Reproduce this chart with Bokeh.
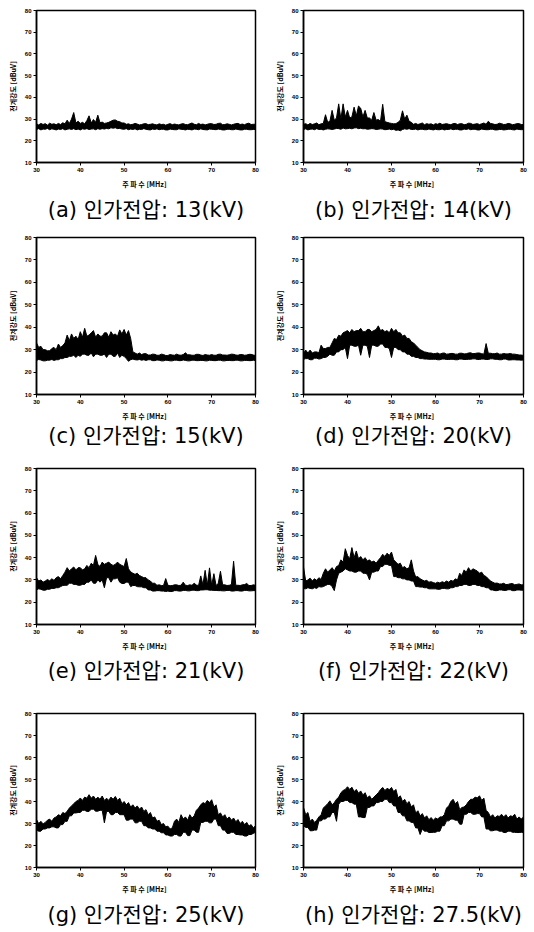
import numpy as np
from bokeh.plotting import figure
from bokeh.layouts import column, row
from bokeh.embed import file_html
from bokeh.resources import INLINE

# ---------------- data ----------------
# Each spectrum is a dense noise band: upper and lower edge of the band, every 0.5 MHz
freq_mhz = [float(f) for f in np.arange(30.0, 80.01, 0.5)]  # 30..80 MHz, 101 points

upper_13kv = [27.8,27.3,28.0,27.5,27.9,27.2,28.1,27.6,27.8,27.4,
              28.0,27.5,28.3,27.8,29.5,28.0,30.0,33.0,28.2,29.0,
              28.0,28.5,27.8,29.3,31.5,28.2,29.8,28.5,31.8,28.3,
              28.6,28.0,28.2,28.5,29.0,29.5,29.6,29.0,28.8,28.2,
              28.2,27.6,27.8,27.4,27.6,28.0,27.7,27.3,27.5,27.8,
              27.9,27.4,27.6,27.8,27.5,27.3,27.8,27.5,27.6,27.2,
              27.6,27.9,27.4,27.7,27.5,27.3,27.7,27.9,27.5,27.4,
              27.8,28.2,27.6,27.4,28.0,27.5,27.7,27.3,27.6,27.9,
              27.9,27.5,27.6,28.0,28.1,27.4,27.5,27.8,27.6,27.3,
              27.6,27.9,28.0,27.5,27.7,27.4,27.9,28.1,27.5,27.6,
              27.6]
lower_13kv = [25.2,25.6,25.0,25.4,25.3,25.7,25.1,25.5,25.3,25.0,
              25.4,25.2,25.6,25.0,25.3,25.5,25.2,25.6,25.1,25.4,
              25.0,25.5,25.3,25.6,25.2,25.4,25.5,25.1,25.6,25.3,
              25.6,25.4,25.7,25.5,26.0,25.8,26.0,25.6,25.7,25.4,
              25.3,25.6,25.1,25.4,25.2,25.5,25.0,25.3,25.2,25.6,
              25.3,25.1,25.0,25.4,25.2,25.5,25.1,25.3,25.3,25.0,
              25.0,25.4,25.2,25.1,25.1,25.5,25.3,25.2,25.0,25.3,
              25.2,25.0,25.4,25.3,25.1,25.5,25.2,25.1,25.0,25.4,
              25.3,25.2,25.1,25.4,25.2,25.0,25.0,25.3,25.3,25.1,
              25.1,25.4,25.2,25.0,25.0,25.3,25.3,25.1,25.1,25.2,
              25.2]
upper_14kv = [27.6,27.9,27.3,28.0,27.5,27.8,28.2,27.4,27.8,28.0,
              32.0,28.5,29.0,34.0,29.5,30.5,37.0,30.0,37.0,31.0,
              34.0,30.5,31.0,35.5,31.5,36.0,35.0,31.0,34.0,30.5,
              30.5,29.5,33.0,29.5,29.8,29.0,36.8,28.8,28.5,28.2,
              28.0,27.8,27.9,28.5,29.5,33.8,30.0,31.8,29.0,28.5,
              27.6,28.0,27.5,27.8,28.2,27.4,27.9,27.6,27.8,27.3,
              27.9,27.6,28.1,27.5,27.7,27.9,27.6,27.4,27.9,28.0,
              27.5,27.8,27.9,27.4,27.6,28.1,28.0,27.5,27.7,27.9,
              27.5,27.8,28.2,27.6,29.0,28.0,27.8,27.5,27.6,28.1,
              27.9,27.5,27.6,28.0,27.8,27.4,27.6,27.9,27.9,27.5,
              27.5]
lower_14kv = [25.2,25.5,25.0,25.3,25.4,25.1,25.6,25.2,25.3,25.0,
              25.3,25.5,25.4,25.2,25.4,25.7,25.6,25.3,25.9,25.5,
              25.6,25.8,25.5,25.9,26.0,25.6,25.8,25.5,25.6,25.3,
              25.4,25.6,25.5,25.2,25.3,25.5,25.4,25.1,25.2,25.4,
              25.1,25.3,24.8,25.0,24.6,25.2,25.5,25.3,25.6,25.2,
              25.2,25.4,25.0,25.3,25.3,25.1,25.1,25.4,25.2,25.0,
              25.3,25.1,25.1,25.4,25.0,25.2,25.2,25.5,25.1,25.3,
              25.3,25.0,25.0,25.4,25.2,25.5,25.1,25.3,25.3,25.0,
              25.0,25.4,25.2,25.1,25.1,25.3,25.3,25.0,25.0,25.2,
              25.2,25.0,25.1,25.3,25.3,25.1,25.0,25.4,25.2,25.1,
              25.2]
upper_15kv = [33.0,31.0,31.5,30.0,30.0,29.5,29.5,30.5,31.0,30.0,
              32.5,31.0,31.8,33.0,36.5,34.0,37.0,35.0,36.0,34.5,
              38.0,35.5,39.5,36.0,36.5,37.5,38.5,35.5,37.0,36.0,
              36.0,37.5,37.5,35.5,38.0,36.5,37.0,36.0,38.8,37.0,
              39.0,36.5,38.5,35.0,29.0,28.5,28.0,28.5,27.8,28.2,
              28.2,27.6,27.6,28.0,27.9,27.5,27.5,28.0,27.8,27.4,
              27.4,27.8,27.6,27.5,28.0,27.6,27.5,27.8,28.6,27.7,
              27.7,27.5,27.5,27.9,27.9,27.6,27.4,27.8,27.6,27.5,
              27.8,27.5,27.5,27.9,28.0,27.6,27.6,27.5,27.7,28.0,
              27.9,27.6,27.5,27.8,27.8,27.5,27.6,27.9,27.9,27.6,
              27.4]
lower_15kv = [25.2,25.6,25.4,25.0,25.0,25.3,25.3,25.6,25.2,25.5,
              25.5,26.0,26.0,26.5,26.5,27.0,27.0,27.5,26.5,27.5,
              27.0,28.0,28.0,27.5,27.5,28.5,26.8,28.0,28.0,27.5,
              27.5,28.0,26.5,28.0,28.0,27.0,27.0,28.5,26.5,27.5,
              27.0,26.0,24.8,25.5,25.8,25.5,25.4,25.6,25.3,25.5,
              25.2,25.5,25.5,25.1,25.1,25.4,25.3,25.0,25.0,25.3,
              25.2,25.0,25.0,25.3,25.3,25.1,25.1,25.4,25.2,25.0,
              25.0,25.3,25.3,25.1,25.1,25.2,25.2,25.0,25.0,25.3,
              25.2,25.1,25.1,25.3,25.3,25.0,25.0,25.2,25.2,25.1,
              25.1,25.3,25.3,25.0,25.0,25.2,25.2,25.1,25.1,25.3,
              25.1]
upper_20kv = [28.3,29.8,28.5,29.8,28.5,29.0,29.0,28.6,32.0,30.5,
              30.5,31.0,31.0,33.0,35.0,34.5,36.4,36.0,37.5,38.0,
              38.5,37.5,39.0,38.0,38.5,38.5,39.5,38.0,38.0,39.0,
              39.0,38.0,38.5,39.0,40.6,38.5,39.0,38.0,38.5,37.5,
              39.5,38.0,39.0,37.5,37.5,36.0,36.5,35.0,35.0,33.5,
              33.0,32.0,31.0,30.0,29.5,29.0,28.8,28.5,28.5,28.2,
              28.3,28.5,28.0,28.4,28.5,28.0,28.1,28.3,28.3,28.0,
              28.0,28.4,28.4,28.1,28.2,28.5,28.6,28.2,28.3,28.5,
              28.5,28.2,28.0,32.7,28.4,28.4,28.2,28.2,28.5,28.0,
              28.0,28.3,28.1,28.1,28.3,28.0,28.0,27.8,27.6,27.6,
              27.4]
lower_20kv = [25.7,26.0,26.0,25.5,25.5,26.2,26.2,25.8,26.0,26.5,
              26.5,27.0,28.0,27.5,27.5,29.0,29.0,30.0,30.0,31.0,
              26.0,32.0,32.0,31.5,31.5,32.0,27.5,32.0,32.0,31.5,
              26.5,32.0,32.0,31.5,31.5,32.5,32.5,31.0,31.0,30.5,
              26.5,31.0,31.0,30.0,30.0,29.0,29.0,28.0,28.0,27.0,
              27.0,26.5,26.5,26.0,26.0,25.8,25.8,25.7,25.7,25.7,
              25.7,25.5,25.5,25.8,25.8,25.6,25.6,25.7,25.7,25.5,
              25.5,25.8,25.8,25.6,25.6,25.7,25.7,25.9,25.9,25.6,
              25.6,25.8,25.8,25.6,25.6,25.9,25.9,25.7,25.7,25.5,
              25.5,25.8,25.8,25.4,25.4,25.5,25.5,25.4,25.4,25.3,
              25.4]
upper_21kv = [31.0,29.5,30.0,29.0,29.5,30.2,29.6,30.5,29.8,31.0,
              31.5,30.5,32.0,33.5,35.5,34.0,35.0,35.8,34.5,35.5,
              35.5,34.5,35.0,36.5,35.5,37.5,36.5,41.0,37.0,36.0,
              38.0,37.0,37.5,38.0,37.0,36.5,37.0,38.0,37.0,36.5,
              36.0,39.6,35.0,33.6,33.0,32.5,33.0,32.0,31.5,31.0,
              31.0,30.0,29.5,28.5,28.5,27.6,27.8,27.5,27.5,30.6,
              27.6,27.4,27.5,27.8,27.8,27.5,27.6,29.0,27.6,27.5,
              27.8,27.6,28.5,27.7,27.5,31.8,27.8,34.3,27.6,35.4,
              27.6,32.8,27.5,28.5,33.9,27.8,27.8,27.5,27.6,27.9,
              38.4,27.6,27.6,27.5,27.8,27.9,28.4,27.5,27.5,27.8,
              27.6]
lower_21kv = [25.6,26.0,25.8,25.4,25.4,25.8,25.8,26.2,26.2,26.5,
              26.5,27.0,27.5,27.6,27.6,28.5,28.5,28.0,28.0,27.6,
              27.6,28.0,28.0,29.0,29.0,30.0,28.5,28.5,30.0,29.0,
              30.0,26.5,31.0,31.0,29.0,30.5,30.5,31.0,29.0,28.4,
              28.4,29.0,29.0,27.0,27.5,27.5,27.0,26.9,26.9,26.5,
              26.5,25.5,25.5,25.0,25.0,25.2,25.2,25.0,25.0,24.8,
              25.0,24.8,24.8,25.2,25.2,25.0,25.0,25.3,25.3,25.1,
              25.1,25.4,25.4,25.2,25.2,25.5,25.5,25.6,25.6,25.4,
              25.4,25.3,25.3,25.2,25.2,25.1,25.1,25.3,25.3,25.0,
              25.0,25.2,25.2,25.0,25.0,25.3,25.3,25.1,25.1,25.2,
              25.2]
upper_22kv = [35.8,29.5,30.0,30.8,29.6,30.5,29.8,31.0,30.2,33.0,
              35.0,33.5,34.5,35.5,34.0,36.0,36.5,39.0,38.0,44.0,
              41.0,39.5,44.5,40.0,43.0,39.5,40.5,39.0,40.0,38.5,
              39.0,38.0,38.5,37.5,38.8,40.0,41.5,40.5,42.0,41.0,
              42.5,39.0,38.0,37.0,37.5,35.5,36.0,35.0,35.5,39.0,
              34.0,31.3,31.5,30.5,30.0,29.5,29.8,29.0,29.2,28.8,
              28.5,29.0,28.6,29.2,28.8,29.5,29.0,29.8,29.4,30.5,
              30.0,33.0,32.0,34.5,33.5,35.5,34.0,35.0,34.5,34.0,
              33.0,33.5,32.0,31.5,30.5,29.5,29.0,28.5,28.6,28.2,
              28.2,28.5,27.9,28.0,28.3,28.4,27.8,28.0,28.2,27.8,
              27.8]
lower_22kv = [26.2,26.0,26.5,26.2,26.0,26.5,26.2,27.0,26.8,27.0,
              27.5,28.0,28.0,27.0,25.2,30.0,33.0,33.5,34.0,35.0,
              34.5,34.0,34.0,33.5,33.5,34.0,34.0,33.0,33.0,32.5,
              30.0,33.5,33.5,34.0,34.0,36.0,36.0,37.0,37.0,36.5,
              36.5,31.5,31.5,31.0,31.0,30.5,30.5,30.0,30.0,29.5,
              29.5,27.0,27.0,26.8,26.8,26.5,26.5,26.0,26.0,26.0,
              26.0,25.8,25.8,26.2,26.2,26.0,26.0,26.5,26.5,27.0,
              27.0,27.5,27.5,28.0,28.0,27.5,27.5,28.0,28.0,27.5,
              27.5,27.0,27.0,26.5,26.5,25.5,25.5,25.2,25.2,25.5,
              25.5,25.3,25.3,25.6,25.6,25.2,25.2,25.5,25.5,25.4,
              25.4]
upper_25kv = [31.8,30.0,31.0,29.8,30.5,31.5,32.0,31.0,32.5,33.0,
              34.0,33.5,35.0,34.5,35.6,37.0,38.0,39.0,40.0,40.5,
              41.6,40.5,42.0,41.5,43.1,41.5,42.5,41.0,42.0,41.0,
              42.5,40.5,41.5,40.5,42.0,41.0,42.3,40.5,41.5,39.0,
              40.0,38.5,39.5,37.5,38.5,37.0,38.0,36.5,37.5,35.5,
              36.3,34.0,35.0,32.5,33.0,31.0,31.5,29.5,30.0,28.5,
              28.8,27.5,28.0,31.0,32.0,30.5,34.0,32.0,33.0,31.5,
              34.0,32.5,33.5,36.0,37.0,38.5,39.5,39.0,40.5,39.5,
              40.8,37.5,38.5,34.0,34.8,33.0,34.0,32.0,33.0,31.5,
              32.5,30.8,31.8,30.0,31.0,29.5,30.5,28.8,29.5,28.0,
              29.0]
lower_25kv = [27.0,26.5,26.5,27.5,27.5,28.0,28.0,28.5,28.5,28.0,
              28.0,29.5,29.5,31.0,31.0,33.5,33.5,34.8,34.8,35.0,
              35.0,36.0,36.0,35.5,35.5,36.5,36.5,35.6,35.6,36.0,
              36.0,30.3,35.5,35.5,34.0,34.0,35.0,35.0,34.0,34.0,
              34.0,31.5,31.5,32.0,32.0,30.3,30.3,31.0,31.0,29.0,
              29.0,28.0,28.0,27.5,27.5,26.5,26.5,25.8,25.8,24.8,
              24.8,24.3,24.3,25.0,25.0,24.3,24.3,26.0,26.0,24.5,
              24.5,27.0,27.0,26.0,26.0,30.5,30.5,31.0,31.0,30.3,
              30.3,32.0,32.0,29.0,29.0,27.0,27.0,25.5,25.5,26.0,
              26.0,25.0,25.0,24.8,24.8,24.3,24.3,25.0,25.0,25.5,
              26.0]
upper_27_5kv = [37.3,34.0,35.0,31.0,32.0,30.5,31.5,33.0,34.0,37.0,
                38.0,39.0,40.3,38.5,39.5,41.0,42.0,44.0,45.0,45.5,
                46.7,45.5,46.5,44.5,45.5,43.8,44.8,43.0,44.0,41.6,
                42.6,41.0,42.0,43.0,44.0,45.4,46.4,45.0,46.0,45.4,
                46.4,44.5,45.5,41.6,42.6,40.0,41.0,39.0,40.0,37.5,
                38.5,34.8,35.8,33.5,34.5,32.5,33.5,31.7,32.7,31.5,
                32.5,32.0,33.0,33.0,34.0,37.0,38.0,40.0,41.0,39.0,
                40.0,36.3,37.3,37.5,38.5,40.0,41.0,41.0,42.0,41.6,
                42.6,40.5,41.5,36.0,35.0,33.0,34.0,32.5,33.5,33.2,
                34.2,33.0,34.0,32.5,33.5,33.2,34.2,32.0,33.0,32.0,
                33.0]
lower_27_5kv = [29.0,28.2,28.2,26.7,26.7,27.0,27.0,31.2,31.2,32.0,
                32.0,33.0,33.0,35.0,35.0,31.0,38.8,40.0,40.0,40.5,
                40.5,39.5,39.5,38.8,38.8,33.0,33.0,32.7,32.7,37.3,
                37.3,38.0,38.0,39.5,39.5,40.0,40.0,41.0,41.0,39.5,
                39.5,38.0,38.0,35.0,35.0,33.5,33.5,31.2,31.2,30.5,
                30.5,28.0,28.0,25.0,27.5,26.5,26.5,25.9,25.9,26.0,
                26.0,26.5,26.5,29.0,29.0,31.2,31.2,32.0,32.0,31.5,
                31.5,29.7,29.7,34.2,34.2,35.0,35.0,34.2,34.2,34.5,
                34.5,33.0,33.0,27.5,27.5,26.7,26.7,27.0,27.0,26.5,
                26.5,25.9,25.9,26.5,26.5,26.0,26.0,25.9,25.9,26.0,
                25.9]

captions = ["(a) 인가전압: 13(kV)", "(b) 인가전압: 14(kV)",
            "(c) 인가전압: 15(kV)", "(d) 인가전압: 20(kV)",
            "(e) 인가전압: 21(kV)", "(f) 인가전압: 22(kV)",
            "(g) 인가전압: 25(kV)", "(h) 인가전압: 27.5(kV)"]
x_ticks = [30, 40, 50, 60, 70, 80]
y_ticks = [10, 20, 30, 40, 50, 60, 70, 80]
x_title = "주  파  수 [MHz]"
y_title = "전계강도 [dBuV]"

uppers = [upper_13kv, upper_14kv, upper_15kv, upper_20kv,
          upper_21kv, upper_22kv, upper_25kv, upper_27_5kv]
lowers = [lower_13kv, lower_14kv, lower_15kv, lower_20kv,
          lower_21kv, lower_22kv, lower_25kv, lower_27_5kv]

# ---------------- layout ----------------
FONT = "Noto Sans CJK KR"
CAP_FONT = "DejaVu Sans, Noto Sans CJK KR"
row_top = [10, 11, 12, 27]
row_frame_h = [154, 157, 156, 155]
row_bottom = [62, 62, 62, 62]
cap_standoff = [9, -4, 6, 8]
col_w = [267, 267]
col_left = [36, 36]
col_frame_w = [219, 220]


def make_panel(up, lo, caption, r, c):
    p = figure(width=col_w[c],
               height=row_top[r] + row_frame_h[r] + row_bottom[r],
               x_range=(30, 80), y_range=(10, 80),
               output_backend="svg", toolbar_location=None,
               min_border_left=col_left[c], min_border_top=row_top[r],
               min_border_bottom=row_bottom[r],
               min_border_right=col_w[c] - col_left[c] - col_frame_w[c],
               title_location="below")
    p.varea(x=freq_mhz, y1=lo, y2=up, fill_color="black", fill_alpha=1)
    p.line(freq_mhz, up, line_color="black", line_width=1)
    p.line(freq_mhz, lo, line_color="black", line_width=1)
    p.xgrid.visible = False
    p.ygrid.visible = False
    p.outline_line_color = "black"
    p.outline_line_width = 1.5
    p.outline_line_alpha = 1
    p.xaxis.ticker = x_ticks
    p.yaxis.ticker = y_ticks
    p.xaxis.axis_label = x_title
    p.yaxis.axis_label = y_title
    for ax in (p.xaxis, p.yaxis):
        ax.axis_line_color = "black"
        ax.axis_line_width = 1.5
        ax.major_tick_line_color = "black"
        ax.major_tick_in = 0
        ax.major_tick_out = 3
        ax.minor_tick_line_color = None
        ax.major_label_text_font = "Liberation Sans"
        ax.major_label_text_font_size = "6px"
        ax.major_label_text_font_style = "bold"
        ax.major_label_text_color = "black"
        ax.major_label_standoff = 2
        ax.axis_label_text_font = FONT
        ax.axis_label_text_font_size = "7px"
        ax.axis_label_text_font_style = "bold"
        ax.axis_label_text_color = "black"
        ax.axis_label_standoff = 4
    p.title.text = caption
    p.title.align = "center"
    p.title.text_font = CAP_FONT
    p.title.text_font_size = "21px"
    p.title.text_font_style = "normal"
    p.title.text_color = "black"
    p.title.standoff = cap_standoff[r]
    return p


figs = [make_panel(uppers[i], lowers[i], captions[i], i // 2, i % 2)
        for i in range(8)]
layout = column(*[row(figs[2 * r], figs[2 * r + 1]) for r in range(4)])

open("out.html", "w").write(file_html(layout, INLINE))
